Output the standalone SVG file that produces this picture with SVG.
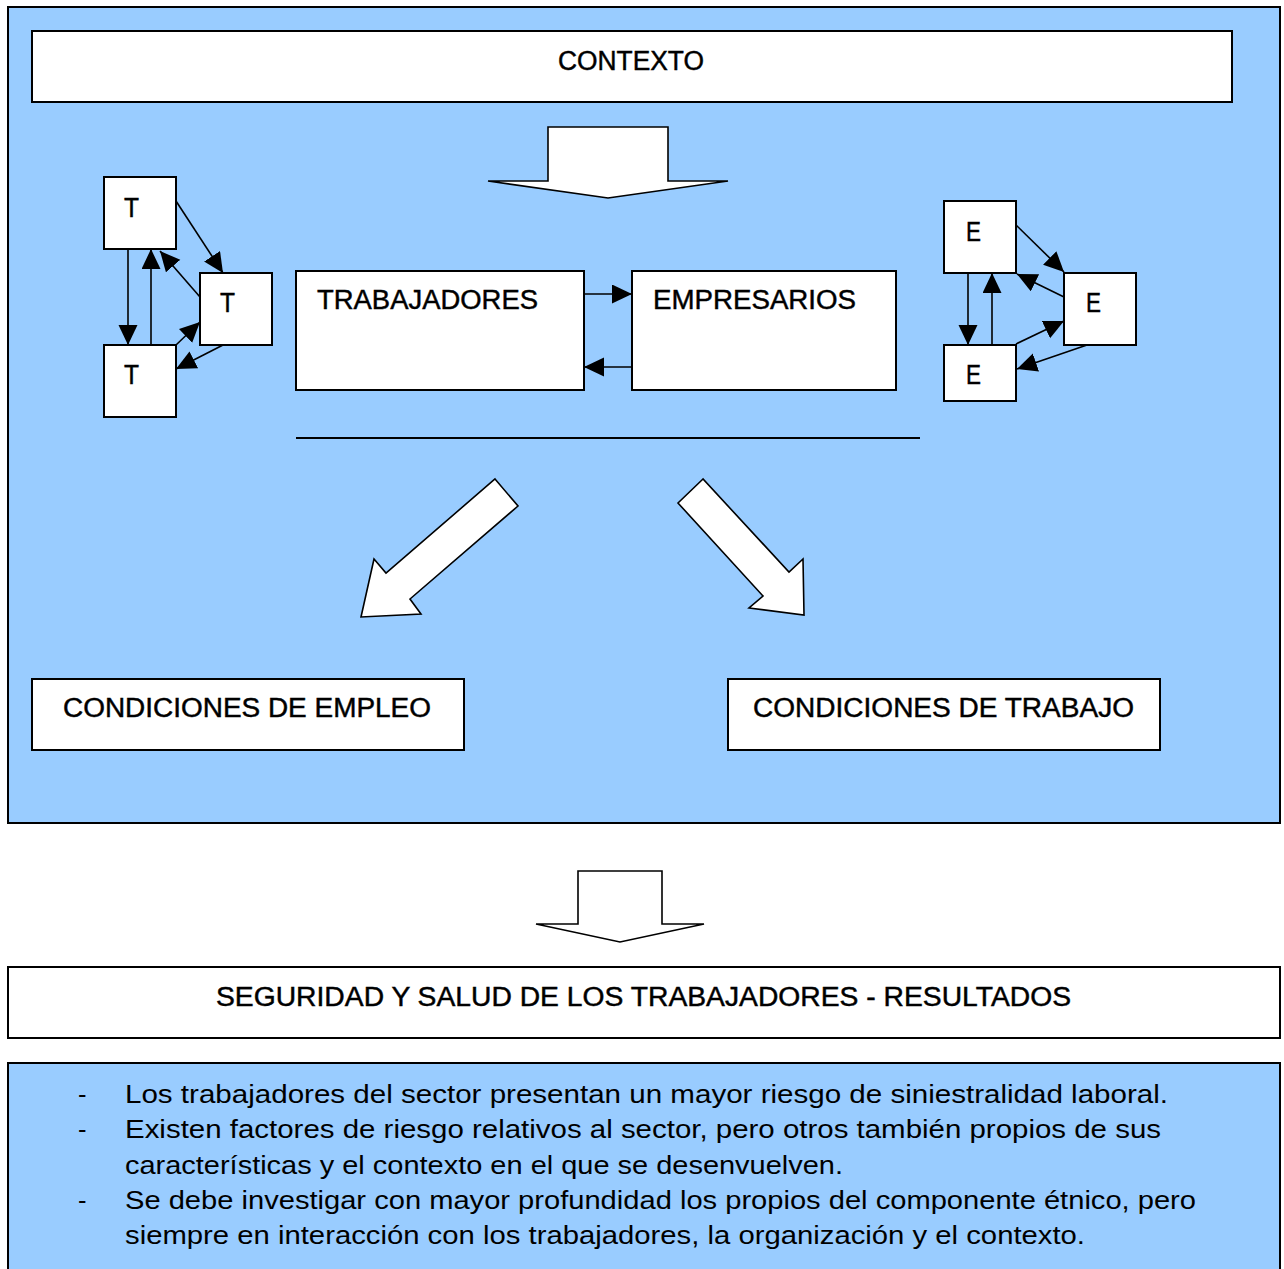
<svg xmlns="http://www.w3.org/2000/svg" width="1284" height="1269" viewBox="0 0 1284 1269">
<style>
.panel{fill:#99CCFF;stroke:#000;stroke-width:2}
.box{fill:#fff;stroke:#000;stroke-width:2}
.big{fill:#fff;stroke:#000;stroke-width:1.6;stroke-linejoin:miter}
.lbl{font-family:"Liberation Sans",Arial,sans-serif;font-size:27px;fill:#000;stroke:#000;stroke-width:0.45}
.txt{font-family:"Liberation Sans",Arial,sans-serif;font-size:25.5px;fill:#000}
.con{stroke:#000;stroke-width:1.6;fill:none;marker-end:url(#ah)}
</style>
<defs>
<marker id="ah" markerUnits="userSpaceOnUse" markerWidth="20" markerHeight="20" refX="20" refY="9.5" orient="auto">
<path d="M0,0 L20,9.5 L0,19 z" fill="#000"/>
</marker>
</defs>
<rect width="1284" height="1269" fill="#fff"/>
<g id="panel-top"><rect class="panel" x="8" y="7" width="1272" height="816"/></g>
<g id="contexto"><rect class="box" x="32" y="31" width="1200" height="71"/><text class="lbl" x="558" y="70" textLength="146" lengthAdjust="spacingAndGlyphs">CONTEXTO</text></g>
<g id="arrow-top"><polygon class="big" points="548,127 668,127 668,181 728,181 608,198 488,181 548,181"/></g>
<g id="t1"><rect class="box" x="104" y="177" width="72" height="72"/><text class="lbl" x="124" y="217" textLength="15" lengthAdjust="spacingAndGlyphs">T</text></g>
<g id="t2"><rect class="box" x="200" y="273" width="72" height="72"/><text class="lbl" x="220" y="312" textLength="15" lengthAdjust="spacingAndGlyphs">T</text></g>
<g id="t3"><rect class="box" x="104" y="345" width="72" height="72"/><text class="lbl" x="124" y="384" textLength="15" lengthAdjust="spacingAndGlyphs">T</text></g>
<g id="e1"><rect class="box" x="944" y="201" width="72" height="72"/><text class="lbl" x="966" y="241" textLength="15" lengthAdjust="spacingAndGlyphs">E</text></g>
<g id="e2"><rect class="box" x="1064" y="273" width="72" height="72"/><text class="lbl" x="1086" y="312" textLength="15" lengthAdjust="spacingAndGlyphs">E</text></g>
<g id="e3"><rect class="box" x="944" y="345" width="72" height="56"/><text class="lbl" x="966" y="384" textLength="15" lengthAdjust="spacingAndGlyphs">E</text></g>
<g id="trabajadores"><rect class="box" x="296" y="271" width="288" height="119"/><text class="lbl" x="317" y="309" textLength="221" lengthAdjust="spacingAndGlyphs">TRABAJADORES</text></g>
<g id="empresarios"><rect class="box" x="632" y="271" width="264" height="119"/><text class="lbl" x="653" y="309" textLength="203" lengthAdjust="spacingAndGlyphs">EMPRESARIOS</text></g>
<g id="arrow-left"><polygon class="big" points="495,479 518,506 410,599 421,614 361,617 374,559 386,573"/></g>
<g id="arrow-right"><polygon class="big" points="703,479 678,503 763,596 749,608 804,615 803,559 789,572"/></g>
<g id="cond-empleo"><rect class="box" x="32" y="679" width="432" height="71"/><text class="lbl" x="63" y="717" textLength="368" lengthAdjust="spacingAndGlyphs">CONDICIONES DE EMPLEO</text></g>
<g id="cond-trabajo"><rect class="box" x="728" y="679" width="432" height="71"/><text class="lbl" x="753" y="717" textLength="381" lengthAdjust="spacingAndGlyphs">CONDICIONES DE TRABAJO</text></g>
<g id="arrow-bottom"><polygon class="big" points="578,871 662,871 662,924 704,924 620,942 536,924 578,924"/></g>
<g id="seguridad"><rect class="box" x="8" y="967" width="1272" height="71"/><text class="lbl" x="216" y="1006" textLength="855" lengthAdjust="spacingAndGlyphs">SEGURIDAD Y SALUD DE LOS TRABAJADORES - RESULTADOS</text></g>
<g id="resultados">
<rect class="panel" x="8" y="1063" width="1272" height="220"/>
<text class="txt" x="78" y="1103">-</text>
<text class="txt" x="125" y="1103" textLength="1043" lengthAdjust="spacingAndGlyphs">Los trabajadores del sector presentan un mayor riesgo de siniestralidad laboral.</text>
<text class="txt" x="78" y="1138">-</text>
<text class="txt" x="125" y="1138" textLength="1036" lengthAdjust="spacingAndGlyphs">Existen factores de riesgo relativos al sector, pero otros también propios de sus</text>
<text class="txt" x="125" y="1173.5" textLength="718" lengthAdjust="spacingAndGlyphs">características y el contexto en el que se desenvuelven.</text>
<text class="txt" x="78" y="1209">-</text>
<text class="txt" x="125" y="1209" textLength="1071" lengthAdjust="spacingAndGlyphs">Se debe investigar con mayor profundidad los propios del componente étnico, pero</text>
<text class="txt" x="125" y="1244" textLength="960" lengthAdjust="spacingAndGlyphs">siempre en interacción con los trabajadores, la organización y el contexto.</text>
</g>
<g id="connectors">
<line x1="296" y1="438" x2="920" y2="438" stroke="#000" stroke-width="2"/>
<line class="con" x1="176" y1="201" x2="223" y2="273"/>
<line class="con" x1="128" y1="249" x2="128" y2="345"/>
<line class="con" x1="151" y1="345" x2="151" y2="249"/>
<line class="con" x1="200" y1="297" x2="160" y2="251"/>
<line class="con" x1="176" y1="345" x2="200" y2="322"/>
<line class="con" x1="223" y1="345" x2="176" y2="369"/>
<line class="con" x1="1016" y1="225" x2="1064" y2="272"/>
<line class="con" x1="968" y1="273" x2="968" y2="345"/>
<line class="con" x1="992" y1="345" x2="992" y2="273"/>
<line class="con" x1="1064" y1="297" x2="1017" y2="274"/>
<line class="con" x1="1016" y1="344" x2="1064" y2="321"/>
<line class="con" x1="1087" y1="345" x2="1017" y2="369"/>
<line class="con" x1="584" y1="294" x2="632" y2="294"/>
<line class="con" x1="632" y1="367" x2="584" y2="367"/>
</g>
</svg>
